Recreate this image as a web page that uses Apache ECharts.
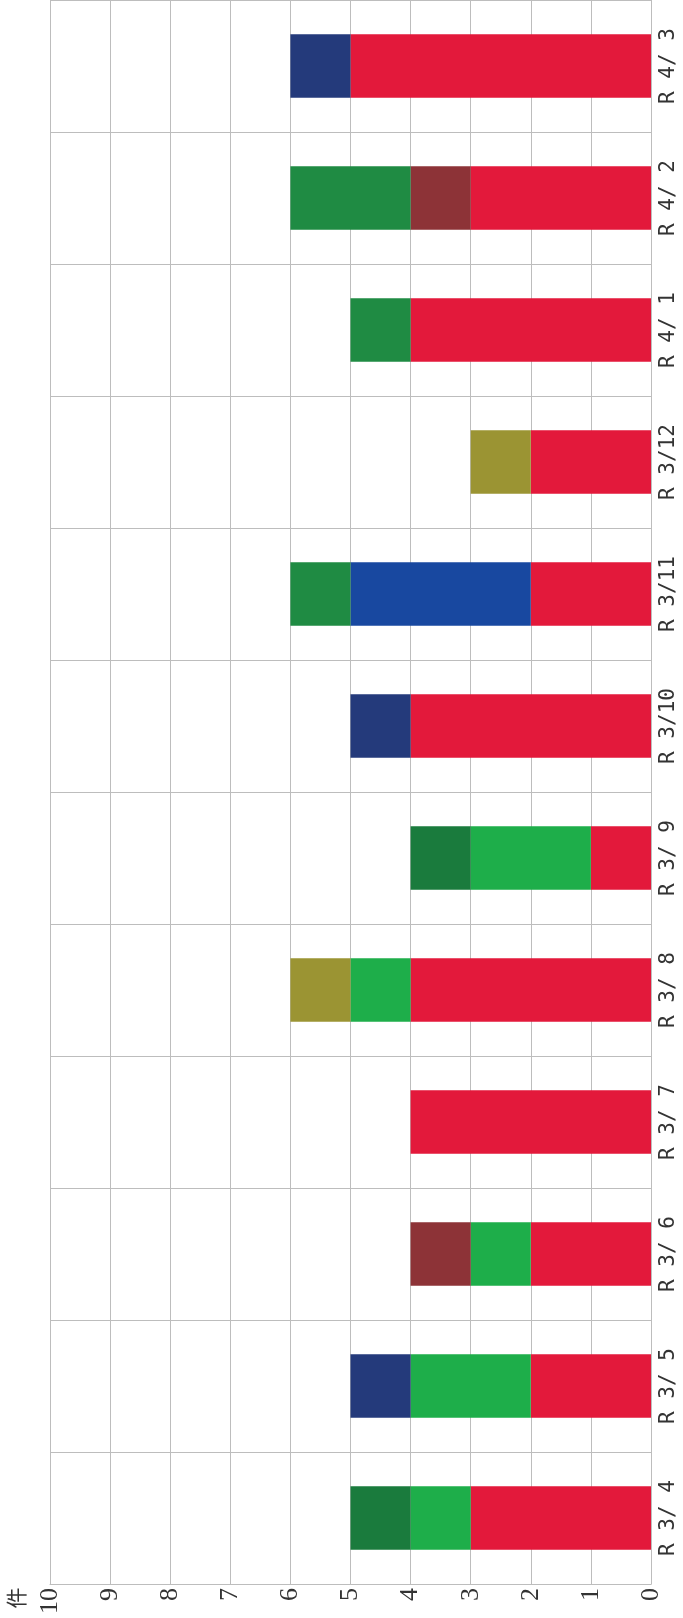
<!DOCTYPE html>
<html lang="ja">
<head>
    <meta charset="UTF-8">
    <title>件数</title>
    <script src="https://cdn.jsdelivr.net/npm/echarts@6/dist/echarts.min.js"></script>
    <style>
        * {
            margin: 0px;
            padding: 0px;
        }
        body {
            background-color: #fff;
        }
        #main {
            width: 683px;
            height: 1618px;
        }
    </style>
</head>
<body>
    <div id="main"></div>

<script>
    // 月ごとのカテゴリ（下から上へ）
    var months = ['R 3/ 4', 'R 3/ 5', 'R 3/ 6', 'R 3/ 7', 'R 3/ 8', 'R 3/ 9',
                  'R 3/10', 'R 3/11', 'R 3/12', 'R 4/ 1', 'R 4/ 2', 'R 4/ 3'];

    // 積み上げの各色（0側から順）
    var redVals       = [3, 2, 2, 4, 4, 1, 4, 2, 2, 4, 3, 5];
    var lightGreenVals= [1, 2, 1, 0, 1, 2, 0, 0, 0, 0, 0, 0];
    var blueVals      = [0, 0, 0, 0, 0, 0, 0, 3, 0, 0, 0, 0];
    var brownVals     = [0, 0, 1, 0, 0, 0, 0, 0, 0, 0, 1, 0];
    var oliveVals     = [0, 0, 0, 0, 1, 0, 0, 0, 1, 0, 0, 0];
    var darkGreenVals = [1, 0, 0, 0, 0, 1, 0, 0, 0, 0, 0, 0];
    var greenVals     = [0, 0, 0, 0, 0, 0, 0, 1, 0, 1, 2, 0];
    var navyVals      = [0, 1, 0, 0, 0, 0, 1, 0, 0, 0, 0, 1];

    var valueTicks = { min: 0, max: 10, interval: 1 };

    var myChart = echarts.init(document.getElementById('main'));

    var gridColor = '#bdbdbd';
    var textColor = '#333';

    function seg(name, vals, color) {
        return {
            name: name,
            type: 'bar',
            stack: 'total',
            barWidth: '48%',
            data: vals.map(function (v) { return v === 0 ? null : v; }),
            itemStyle: { color: color },
            silent: true
        };
    }

    var option = {
        animation: false,
        backgroundColor: '#fff',
        grid: { left: 50, right: 32, top: 0, bottom: 34 },
        xAxis: {
            type: 'value',
            inverse: true, // 0 が右側
            min: valueTicks.min,
            max: valueTicks.max,
            interval: valueTicks.interval,
            axisLine: { show: true, lineStyle: { color: gridColor } },
            axisTick: { show: false },
            splitLine: { show: true, lineStyle: { color: gridColor, width: 1 } },
            axisLabel: {
                rotate: 90,
                margin: 4,
                color: textColor,
                fontSize: 26,
                fontFamily: 'Liberation Sans Narrow'
            }
        },
        yAxis: {
            type: 'category',
            position: 'right',
            data: months,
            axisLine: { show: true, lineStyle: { color: gridColor } },
            axisTick: { show: false },
            splitLine: { show: true, lineStyle: { color: gridColor, width: 1 } },
            axisLabel: {
                rotate: 90,
                margin: 7,
                color: textColor,
                fontSize: 21,
                fontFamily: 'DejaVu Sans Mono'
            }
        },
        graphic: [{
            type: 'text',
            x: 16,
            y: 1598,
            rotation: Math.PI / 2,
            style: {
                text: '件',
                fill: textColor,
                font: '21px "Noto Sans CJK JP"',
                align: 'center',
                verticalAlign: 'middle'
            }
        }],
        series: [
            seg('red', redVals, '#e3193b'),
            seg('lightGreen', lightGreenVals, '#1eae4a'),
            seg('blue', blueVals, '#1848a0'),
            seg('brown', brownVals, '#8d3337'),
            seg('olive', oliveVals, '#9b9433'),
            seg('darkGreen', darkGreenVals, '#1a7b3d'),
            seg('green', greenVals, '#1f8b43'),
            seg('navy', navyVals, '#243a7b')
        ]
    };
    myChart.setOption(option);
</script>
</body>
</html>
